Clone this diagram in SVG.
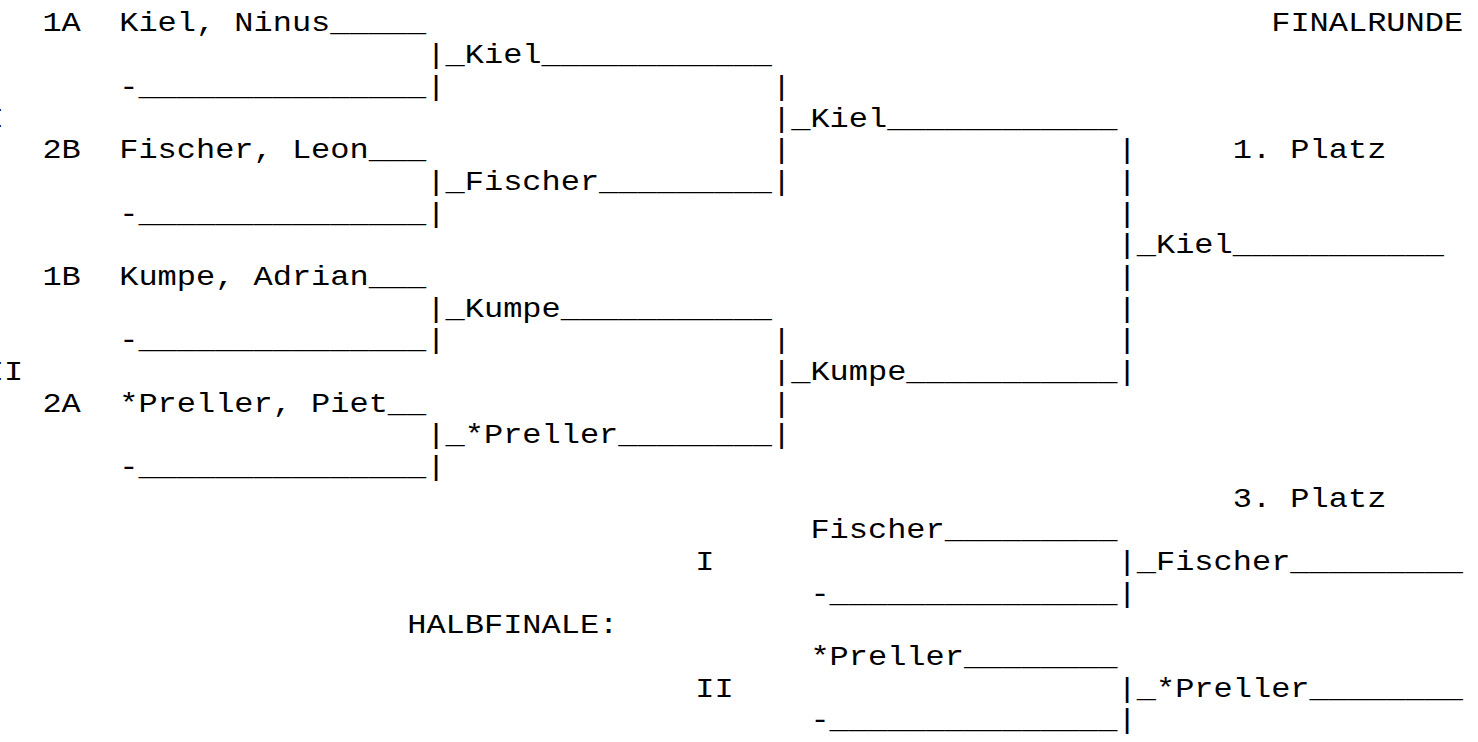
<svg xmlns="http://www.w3.org/2000/svg" width="1478" height="742" viewBox="0 0 1478 742" xml:space="preserve">
<style>
text { font-family: "Liberation Mono", "Courier New", monospace; font-size: 28px; fill: #000; white-space: pre; }
</style>
<rect x="0" y="0" width="1478" height="742" fill="#ffffff"/>
<g transform="translate(-15.2,0) scale(1.142857,1)">
  <g id="titles">
    <text x="1125.6" y="31.5">FINALRUNDE</text>
    <text x="1092" y="158.22">1. Platz</text>
    <text x="1092" y="506.7">3. Platz</text>
    <text x="369.6" y="633.42">HALBFINALE:</text>
  </g>
  <g id="group-labels">
    <text x="0" y="126.54">I</text>
    <text x="0" y="379.98">II</text>
    <text x="621.6" y="570.06">I</text>
    <text x="621.6" y="696.78">II</text>
  </g>
  <g id="node-1A"><text x="50.4" y="31.5">1A</text><text x="117.6" y="31.5">Kiel, Ninus_____</text></g>
  <g id="node-bye-1"><text x="117.6" y="94.86">-_______________</text></g>
  <g id="node-2B"><text x="50.4" y="158.22">2B</text><text x="117.6" y="158.22">Fischer, Leon___</text></g>
  <g id="node-bye-2"><text x="117.6" y="221.58">-_______________</text></g>
  <g id="node-1B"><text x="50.4" y="284.94">1B</text><text x="117.6" y="284.94">Kumpe, Adrian___</text></g>
  <g id="node-bye-3"><text x="117.6" y="348.3">-_______________</text></g>
  <g id="node-2A"><text x="50.4" y="411.66">2A</text><text x="117.6" y="411.66">*Preller, Piet__</text></g>
  <g id="node-bye-4"><text x="117.6" y="475.02">-_______________</text></g>
  <g id="node-r1-kiel"><text x="403.2" y="63.18">_Kiel____________</text></g>
  <g id="node-r1-fischer"><text x="403.2" y="189.9">_Fischer_________</text></g>
  <g id="node-r1-kumpe"><text x="403.2" y="316.62">_Kumpe___________</text></g>
  <g id="node-r1-preller"><text x="403.2" y="443.34">_*Preller________</text></g>
  <g id="node-sf-kiel"><text x="705.6" y="126.54">_Kiel____________</text></g>
  <g id="node-sf-kumpe"><text x="705.6" y="379.98">_Kumpe___________</text></g>
  <g id="node-final-kiel"><text x="1008" y="253.26">_Kiel___________</text></g>
  <g id="node-p3-fischer"><text x="722.4" y="538.38">Fischer_________</text></g>
  <g id="node-p3-bye-1"><text x="722.4" y="601.74">-_______________</text></g>
  <g id="node-p3-preller"><text x="722.4" y="665.1">*Preller________</text></g>
  <g id="node-p3-bye-2"><text x="722.4" y="728.46">-_______________</text></g>
  <g id="node-p3-win-fischer"><text x="1008" y="570.06">_Fischer_________</text></g>
  <g id="node-p3-win-preller"><text x="1008" y="696.78">_*Preller________</text></g>
  <g id="connectors">
    <text x="386.4" y="63.18">|</text>
    <text x="386.4" y="94.86">|</text>
    <text x="386.4" y="189.9">|</text>
    <text x="386.4" y="221.58">|</text>
    <text x="386.4" y="316.62">|</text>
    <text x="386.4" y="348.3">|</text>
    <text x="386.4" y="443.34">|</text>
    <text x="386.4" y="475.02">|</text>
    <text x="688.8" y="94.86">|</text>
    <text x="688.8" y="126.54">|</text>
    <text x="688.8" y="158.22">|</text>
    <text x="688.8" y="189.9">|</text>
    <text x="688.8" y="348.3">|</text>
    <text x="688.8" y="379.98">|</text>
    <text x="688.8" y="411.66">|</text>
    <text x="688.8" y="443.34">|</text>
    <text x="991.2" y="158.22">|</text>
    <text x="991.2" y="189.9">|</text>
    <text x="991.2" y="221.58">|</text>
    <text x="991.2" y="253.26">|</text>
    <text x="991.2" y="284.94">|</text>
    <text x="991.2" y="316.62">|</text>
    <text x="991.2" y="348.3">|</text>
    <text x="991.2" y="379.98">|</text>
    <text x="991.2" y="570.06">|</text>
    <text x="991.2" y="601.74">|</text>
    <text x="991.2" y="696.78">|</text>
    <text x="991.2" y="728.46">|</text>
  </g>
</g>
</svg>
